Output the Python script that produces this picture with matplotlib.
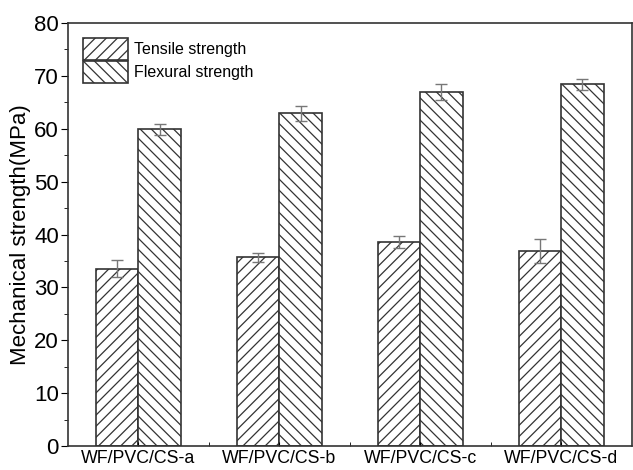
import numpy as np
import matplotlib.pyplot as plt
from matplotlib.ticker import MultipleLocator, FixedLocator

plt.rcParams['font.family'] = ['Liberation Sans', 'DejaVu Sans']
plt.rcParams['hatch.linewidth'] = 0.9

samples = ["WF/PVC/CS-a", "WF/PVC/CS-b", "WF/PVC/CS-c", "WF/PVC/CS-d"]
tensile = [33.5, 35.7, 38.6, 36.9]
tensile_err = [1.6, 0.9, 1.1, 2.2]
flexural = [59.9, 62.9, 66.9, 68.4]
flexural_err = [1.0, 1.5, 1.5, 1.0]

x = np.arange(1, len(samples) + 1)
w = 0.3

fig = plt.figure(figsize=(6.33, 4.70), dpi=100)
ax = fig.add_axes([0.1074, 0.051, 0.8906, 0.90])

ekw = dict(ecolor="#777777", elinewidth=1.0, capsize=4, capthick=1.0)
ax.bar(x - w / 2, tensile, w, yerr=tensile_err, color="white", edgecolor="#333333",
       linewidth=1.2, hatch="///", label="Tensile strength", error_kw=ekw)
ax.bar(x + w / 2, flexural, w, yerr=flexural_err, color="white", edgecolor="#333333",
       linewidth=1.2, hatch="\\\\\\", label="Flexural strength", error_kw=ekw)

ax.set_xlim(0.5, 4.5)
ax.set_ylim(0, 80)
ax.set_xticks(x)
ax.set_xticklabels(samples, fontsize=12.8)
ax.xaxis.set_minor_locator(FixedLocator([1.5, 2.5, 3.5]))
ax.yaxis.set_major_locator(MultipleLocator(10))
ax.yaxis.set_minor_locator(MultipleLocator(5))
ax.tick_params(axis="x", which="both", direction="in", length=3, pad=3)
ax.tick_params(axis="y", which="major", direction="out", length=5, pad=1.5, labelsize=16)
ax.tick_params(axis="y", which="minor", direction="out", length=3)
ax.set_ylabel("Mechanical strength(MPa)", fontsize=16, labelpad=2)

for s in ax.spines.values():
    s.set_color("#333333")
    s.set_linewidth(1.2)

leg = ax.legend(loc="upper left", frameon=False, fontsize=11.5, handlelength=2.8,
                handleheight=1.75, handletextpad=0.4, labelspacing=0.02,
                borderaxespad=0.55)

plt.savefig("out.png", dpi=100)
